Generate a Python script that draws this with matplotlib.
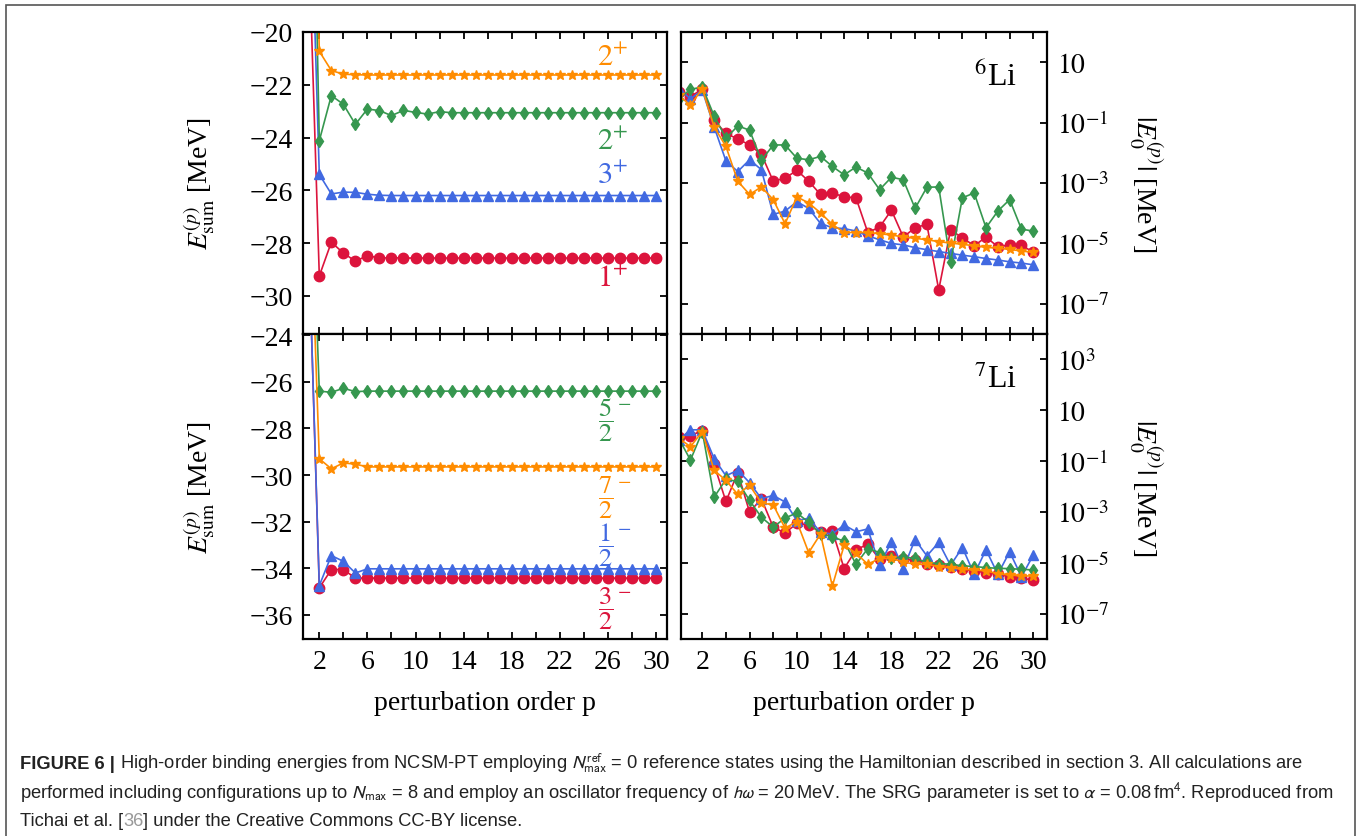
import numpy as np
import matplotlib.pyplot as plt
from matplotlib.ticker import FixedLocator, FuncFormatter, NullLocator
from matplotlib.patches import Rectangle

plt.rcParams['font.family'] = ['Liberation Serif', 'DejaVu Serif']
plt.rcParams['mathtext.fontset'] = 'stix'

# ---------------- data ----------------
p_sum = np.arange(1, 31)      # summed energies, p = 1..30
p_abs = np.arange(0, 31)      # |E0^(p)|, p = 0..30

# 6Li  E_sum^(p) [MeV]
li6_sum_1p = [-14.8, -29.25, -27.97, -28.38, -28.69, -28.48, -28.57, -28.56, -28.57, -28.57,
              -28.57, -28.57, -28.57, -28.57, -28.57, -28.57, -28.57, -28.57, -28.57, -28.57,
              -28.57, -28.57, -28.57, -28.57, -28.57, -28.57, -28.57, -28.57, -28.57, -28.57]
li6_sum_3p = [-10.4, -25.40, -26.14, -26.07, -26.08, -26.15, -26.19, -26.20, -26.20, -26.20,
              -26.20, -26.20, -26.20, -26.20, -26.20, -26.20, -26.20, -26.20, -26.20, -26.20,
              -26.20, -26.20, -26.20, -26.20, -26.20, -26.20, -26.20, -26.20, -26.20, -26.20]
li6_sum_2pa = [-2.0, -24.12, -22.41, -22.74, -23.50, -22.92, -22.98, -23.17, -22.97, -23.05,
               -23.11, -23.02, -23.06, -23.06, -23.06, -23.06, -23.06, -23.06, -23.06, -23.06,
               -23.06, -23.06, -23.06, -23.06, -23.06, -23.06, -23.06, -23.06, -23.06, -23.06]
li6_sum_2pb = [0.0, -20.73, -21.46, -21.60, -21.62, -21.63, -21.63, -21.63, -21.63, -21.63,
               -21.63, -21.63, -21.63, -21.63, -21.63, -21.63, -21.63, -21.63, -21.63, -21.63,
               -21.63, -21.63, -21.63, -21.63, -21.63, -21.63, -21.63, -21.63, -21.63, -21.63]

# 7Li  E_sum^(p) [MeV]
li7_sum_3h = [-18.0, -34.84, -34.05, -34.05, -34.42, -34.42, -34.42, -34.42, -34.42, -34.42,
              -34.42, -34.42, -34.42, -34.42, -34.42, -34.42, -34.42, -34.42, -34.42, -34.42,
              -34.42, -34.42, -34.42, -34.42, -34.42, -34.42, -34.42, -34.42, -34.42, -34.42]
li7_sum_1h = [-18.0, -34.74, -33.45, -33.70, -34.20, -34.02, -34.02, -34.02, -34.02, -34.02,
              -34.02, -34.02, -34.02, -34.02, -34.02, -34.02, -34.02, -34.02, -34.02, -34.02,
              -34.02, -34.02, -34.02, -34.02, -34.02, -34.02, -34.02, -34.02, -34.02, -34.02]
li7_sum_5h = [-12.3, -26.40, -26.45, -26.28, -26.42, -26.40, -26.40, -26.40, -26.40, -26.40,
              -26.40, -26.40, -26.40, -26.40, -26.40, -26.40, -26.40, -26.40, -26.40, -26.40,
              -26.40, -26.40, -26.40, -26.40, -26.40, -26.40, -26.40, -26.40, -26.40, -26.40]
li7_sum_7h = [-14.6, -29.30, -29.73, -29.48, -29.53, -29.65, -29.65, -29.65, -29.65, -29.65,
              -29.65, -29.65, -29.65, -29.65, -29.65, -29.65, -29.65, -29.65, -29.65, -29.65,
              -29.65, -29.65, -29.65, -29.65, -29.65, -29.65, -29.65, -29.65, -29.65, -29.65]

# 6Li  log10 |E0^(p)| [MeV]
li6_log_1p = [0.01, -0.15, 0.12, -0.92, -1.36, -1.54, -1.74, -2.05, -2.94, -2.84, -2.58,
              -2.94, -3.38, -3.33, -3.46, -3.49, -4.64, -4.46, -3.90, -4.79, -4.48,
              -4.37, -6.54, -4.56, -4.81, -5.08, -4.79, -5.11, -5.05, -5.05, -5.30]
li6_log_3p = [0.12, -0.21, 0.07, -1.14, -2.27, -2.62, -2.23, -2.56, -4.04, -3.93, -3.62,
              -3.84, -4.34, -4.48, -4.51, -4.59, -4.75, -4.88, -5.00, -5.05, -5.14,
              -5.21, -5.27, -5.33, -5.39, -5.44, -5.50, -5.55, -5.61, -5.65, -5.71]
li6_log_2pa = [-0.21, 0.10, 0.18, -0.78, -1.52, -1.11, -1.25, -2.25, -1.74, -1.74, -2.18,
               -2.23, -2.12, -2.45, -2.73, -2.47, -2.67, -3.22, -2.81, -2.89, -3.84,
               -3.14, -3.13, -5.63, -3.49, -3.33, -4.48, -3.93, -3.55, -4.53, -4.59]
li6_log_2pb = [-0.10, -0.42, 0.12, -1.14, -1.79, -2.94, -3.38, -3.13, -3.55, -4.35, -3.46,
               -3.66, -3.99, -4.37, -4.64, -4.64, -4.64, -4.68, -4.72, -4.79, -4.83,
               -4.88, -4.94, -4.99, -5.03, -5.08, -5.13, -5.16, -5.20, -5.25, -5.30]

# 7Li  log10 |E0^(p)| [MeV]
li7_log_3h = [-0.04, 0.00, 0.20, -1.13, -2.59, -1.45, -3.01, -2.48, -3.60, -3.83, -3.45,
              -3.51, -3.80, -3.74, -5.23, -4.49, -4.27, -4.86, -4.75, -4.86, -4.89,
              -5.03, -5.10, -5.16, -5.26, -5.32, -5.39, -5.45, -5.55, -5.61, -5.68]
li7_log_1h = [-0.17, 0.23, 0.23, -0.90, -1.58, -1.36, -1.85, -2.48, -2.35, -2.61, -3.34,
              -3.25, -3.80, -3.87, -3.51, -3.78, -3.67, -5.10, -4.17, -5.23, -4.09,
              -4.73, -4.20, -5.10, -4.40, -5.45, -4.49, -5.45, -4.57, -5.55, -4.70]
li7_log_5h = [-0.10, -0.96, 0.16, -2.42, -1.72, -1.80, -2.55, -3.21, -3.60, -3.24, -3.04,
              -3.41, -3.87, -3.97, -4.16, -5.06, -4.44, -4.60, -4.83, -4.77, -4.83,
              -4.99, -5.03, -5.06, -5.12, -5.15, -5.19, -5.22, -5.23, -5.26, -5.28]
li7_log_7h = [-0.10, -0.43, 0.16, -1.36, -1.76, -2.31, -1.95, -2.65, -2.72, -3.64, -3.38,
              -4.60, -3.87, -5.92, -4.31, -4.62, -5.06, -4.83, -4.83, -4.97, -5.06,
              -5.06, -5.15, -5.19, -5.26, -5.28, -5.32, -5.43, -5.48, -5.52, -5.52]

li6_labels = ['$1^{+}$', '$3^{+}$', '$2^{+}$', '$2^{+}$']
li7_labels = [r'$\dfrac{3}{2}$', r'$\dfrac{1}{2}$', r'$\dfrac{5}{2}$', r'$\dfrac{7}{2}$']
li6_label_y = [-29.36, -25.45, -24.17, -20.96]
li7_label_y = [-35.68, -32.99, -27.60, -30.95]

red, blue, green, orange = '#dc143c', '#4169e1', '#36974f', '#ff8c00'
colors = [red, blue, green, orange]
markers = ['o', '^', 'd', '*']
msizes = [7.5, 6.5, 6.5, 7.5]

# ---------------- figure ----------------
W, H = 1357, 837
fig = plt.figure(figsize=(W / 100, H / 100), dpi=100)


def px_axes(x0, y0, x1, y1):
    return fig.add_axes([x0 / W, 1 - y1 / H, (x1 - x0) / W, (y1 - y0) / H])


ax_tl = px_axes(303, 33, 667, 335)
ax_bl = px_axes(303, 335, 667, 640)
ax_tr = px_axes(681, 33, 1047, 335)
ax_br = px_axes(681, 335, 1047, 640)

xmaj = [2, 6, 10, 14, 18, 22, 26, 30]
xmin = [4, 8, 12, 16, 20, 24, 28]
TICK_FS = 20
LAB_FS = 20


def style(ax, bottom):
    for s in ax.spines.values():
        s.set_linewidth(1.6)
    ax.tick_params(which='both', direction='in', top=True, right=True, left=True,
                   length=5, width=1.3, labelsize=TICK_FS, pad=7)
    ax.xaxis.set_major_locator(FixedLocator(xmaj))
    ax.xaxis.set_minor_locator(FixedLocator(xmin))
    if bottom:
        ax.set_xlabel('perturbation order p', fontsize=LAB_FS, va='center')
        ax.xaxis.set_label_coords(0.5, -0.207)
    else:
        ax.tick_params(labelbottom=False)


sum_sets = [(ax_tl, [li6_sum_1p, li6_sum_3p, li6_sum_2pa, li6_sum_2pb], li6_labels, li6_label_y),
            (ax_bl, [li7_sum_3h, li7_sum_1h, li7_sum_5h, li7_sum_7h], li7_labels, li7_label_y)]
for ax, series, labels, ly in sum_sets:
    for vals, c, m, ms in zip(series, colors, markers, msizes):
        ax.plot(p_sum, vals, color=c, marker=m, ms=ms, lw=1.2, mec=c)
    for lab, y, c in zip(labels, ly, colors):
        if ax is ax_tl:
            ax.text(26.4, y, lab, color=c, fontsize=22, ha='center', va='center')
        else:
            ax.text(25.8, y, lab, color=c, fontsize=19, ha='center', va='center')
            ax.annotate('$-$', (25.8, y), xytext=(13, 13), textcoords='offset points',
                        color=c, fontsize=14, ha='center', va='center')
    ax.set_xlim(0.644, 30.91)
    ax.set_ylabel(r'$E_{\mathrm{sum}}^{(p)}$ [MeV]', fontsize=LAB_FS)
    ax.yaxis.set_label_coords(-0.236, 0.5)

ax_tl.set_ylim(-31.45, -20)
ax_tl.yaxis.set_major_locator(FixedLocator([-30, -28, -26, -24, -22, -20]))
ax_bl.set_ylim(-37.03, -23.95)
ax_bl.yaxis.set_major_locator(FixedLocator([-36, -34, -32, -30, -28, -26, -24]))
style(ax_tl, False)
style(ax_bl, True)


def log_fmt(v, pos):
    e = int(round(np.log10(v)))
    return '$10$' if e == 1 else '$10^{%d}$' % e


abs_sets = [(ax_tr, [li6_log_1p, li6_log_3p, li6_log_2pa, li6_log_2pb], r'$^6$Li',
             (1e-8, 1e2), [1e1, 1e-1, 1e-3, 1e-5, 1e-7]),
            (ax_br, [li7_log_3h, li7_log_1h, li7_log_5h, li7_log_7h], r'$^7$Li',
             (1e-8, 1e4), [1e3, 1e1, 1e-1, 1e-3, 1e-5, 1e-7])]
for ax, series, name, ylim, yt in abs_sets:
    for vals, c, m, ms in zip(series, colors, markers, msizes):
        ax.plot(p_abs, 10.0 ** np.array(vals), color=c, marker=m, ms=ms, lw=1.2, mec=c)
    ax.set_yscale('log')
    ax.set_ylim(*ylim)
    ax.set_xlim(0.198, 31.16)
    ax.yaxis.set_major_locator(FixedLocator(yt))
    ax.yaxis.set_minor_locator(NullLocator())
    ax.yaxis.set_major_formatter(FuncFormatter(log_fmt))
    ax.yaxis.tick_right()
    ax.yaxis.set_label_position('right')
    ax.set_ylabel(r'$|E_0^{(p)}|$ [MeV]', fontsize=LAB_FS, rotation=270, va='center')
    ax.yaxis.set_label_coords(1.273, 0.5)
    ax.text(0.918, 0.853, name, transform=ax.transAxes, fontsize=23,
            ha='right', va='center')

style(ax_tr, False)
style(ax_br, True)
for ax in (ax_tr, ax_br):
    ax.tick_params(axis='y', which='both', left=True, right=True, labelleft=False,
                   labelright=True)

# ---------------- frame and caption ----------------
fig.add_artist(Rectangle((6 / W, -0.02), (1355 - 6) / W, 1 - 6 / H + 0.02,
                         transform=fig.transFigure, fill=False, ec='#555555', lw=1.2))

renderer = fig.canvas.get_renderer()
cap = dict(fontsize=13.2, family=['Liberation Sans', 'DejaVu Sans'],
           math_fontfamily='stixsans', va='baseline', color='#222222')


def put(x, y, s, **kw):
    opts = dict(cap)
    opts.update(kw)
    t = fig.text(x / W, 1 - y / H, s, **opts)
    return x + t.get_window_extent(renderer).width


x = put(20, 769, 'FIGURE 6 |', weight='bold')
put(x + 5, 769, r'High-order binding energies from NCSM-PT employing '
    r'$N_{\mathrm{max}}^{\mathrm{ref}}$ = 0 reference states using the Hamiltonian '
    r'described in section 3. All calculations are')
put(20, 798, r'performed including configurations up to $N_{\mathrm{max}}$ = 8 and employ '
    r'an oscillator frequency of $h\omega$ = 20$\,$MeV. The SRG parameter is set to '
    r'$\alpha$ = 0.08$\,$fm$^4$. Reproduced from')
x = put(20, 826, 'Tichai et al. [')
x = put(x, 826, '36', color='#999999')
put(x, 826, '] under the Creative Commons CC-BY license.')

fig.savefig('out.png', dpi=100)
